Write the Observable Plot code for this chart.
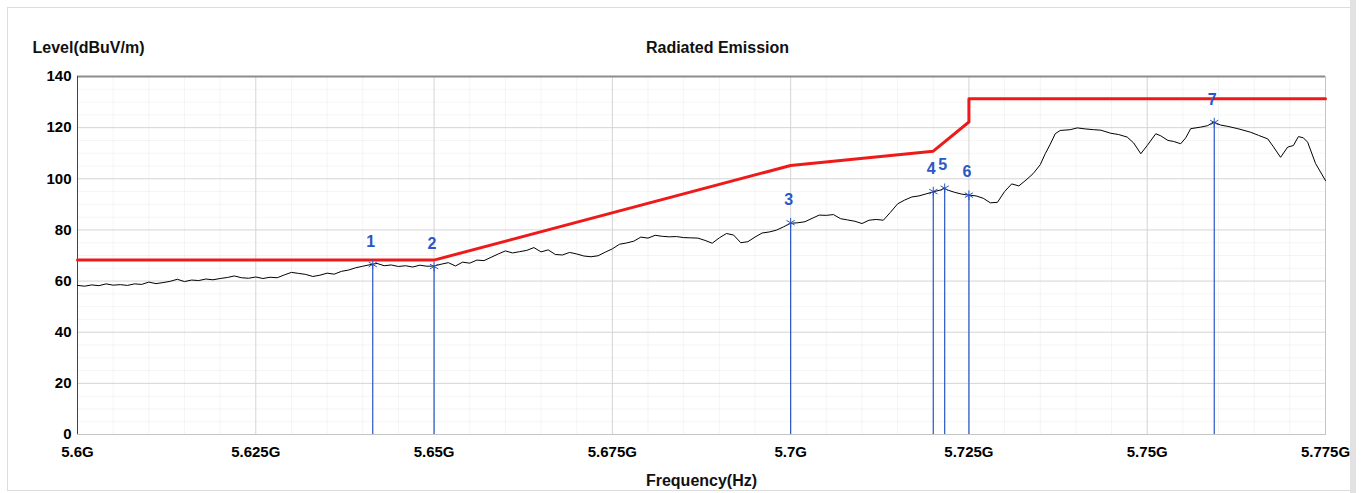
<!DOCTYPE html>
<html>
<head>
<meta charset="utf-8">
<script src="https://cdn.jsdelivr.net/npm/d3@7"></script>
<script src="https://cdn.jsdelivr.net/npm/@observablehq/plot@0.6"></script>
<style>
  html, body { margin: 0; padding: 0; background: #ffffff; }
  #wrap { position: relative; width: 1363px; height: 493px; overflow: hidden; }
  #panel { position: absolute; left: 7px; top: 7px; width: 1342px; height: 482px; border: 1px solid #dcdcdc; background: #ffffff; }
  #strip { position: absolute; left: 1350px; top: 0px; width: 6px; height: 493px; background: #e2e2e2; }
  #chart { position: absolute; left: 0; top: 0; }
</style>
</head>
<body>
<div id="wrap"><div id="panel"></div><div id="strip"></div><div id="chart"></div></div>
<script>
// ---- data (GHz / dBuV/m) ----
const traceFreq = [
  5.600,5.601,5.602,5.603,5.604,5.605,5.606,5.607,5.608,5.609,
  5.610,5.611,5.612,5.613,5.614,5.615,5.616,5.617,5.618,5.619,
  5.620,5.621,5.622,5.623,5.624,5.625,5.626,5.627,5.628,5.629,
  5.630,5.631,5.632,5.633,5.634,5.635,5.636,5.637,5.638,5.639,
  5.640,5.641,5.642,5.643,5.644,5.645,5.646,5.647,5.648,5.649,
  5.650,5.651,5.652,5.653,5.654,5.655,5.656,5.657,5.658,5.659,
  5.660,5.661,5.662,5.663,5.664,5.665,5.666,5.667,5.668,5.669,
  5.670,5.671,5.672,5.673,5.674,5.675,5.676,5.677,5.678,5.679,
  5.680,5.681,5.682,5.683,5.684,5.685,5.686,5.687,5.688,5.689,
  5.690,5.691,5.692,5.693,5.694,5.695,5.696,5.697,5.698,5.699,
  5.700,5.701,5.702,5.703,5.704,5.705,5.706,5.707,5.708,5.709,
  5.710,5.711,5.712,5.713,5.714,5.715,5.716,5.717,5.718,5.719,
  5.720,5.721,5.7215,5.722,5.723,5.724,5.725,5.726,5.727,5.728,5.729,
  5.730,5.731,5.732,5.733,5.734,5.735,
  5.7357,5.7364,5.7371,5.7378,5.7392,5.7402,5.7413,5.7425,5.7435,5.7449,
  5.7460,5.7472,5.7481,5.7491,5.7500,5.7512,5.7519,5.7529,5.7537,5.7547,
  5.7554,5.7561,5.7575,5.7585,5.7593,5.7603,5.7613,5.7627,5.7645,5.7656,
  5.7669,5.7677,5.7687,5.7697,5.7705,5.7712,5.7719,5.7725,5.7736,5.7750
];
const traceLevel = [
  58.3,58.0,58.5,58.2,58.9,58.4,58.6,58.3,58.9,58.7,
  59.6,59.0,59.4,59.9,60.7,59.8,60.4,60.2,60.8,60.5,
  61.0,61.4,62.0,61.3,61.1,61.6,61.0,61.5,61.3,62.4,
  63.4,63.0,62.6,61.8,62.3,63.1,62.7,63.8,64.3,65.2,
  65.8,66.4,66.9,66.0,66.3,65.7,66.0,65.5,66.2,65.8,
  65.9,66.6,67.2,65.9,67.4,67.0,68.2,68.0,69.3,70.6,
  71.8,71.0,71.5,72.0,73.1,71.4,72.2,70.4,70.2,71.2,
  70.6,69.8,69.5,69.9,71.3,72.6,74.4,74.9,75.6,77.2,
  76.8,77.9,77.5,77.3,77.4,77.0,76.9,76.8,75.9,74.8,
  76.9,78.6,78.0,75.0,75.4,77.2,78.8,79.2,79.9,81.2,
  82.6,82.8,83.2,84.5,85.8,85.7,86.0,84.4,83.9,83.4,
  82.5,83.8,84.1,83.8,86.9,90.2,91.7,92.9,93.3,94.1,
  94.9,95.6,96.3,95.6,94.7,94.0,93.6,93.3,92.4,90.6,90.8,
  95.0,98.0,97.2,99.5,102.0,105.5,
  109.8,113.5,117.6,118.9,119.2,119.9,119.5,119.2,119.0,117.8,
  117.3,116.3,114.0,109.8,113.0,117.6,116.8,115.0,114.6,113.7,
  116.0,119.6,120.2,120.8,122.2,121.0,120.5,119.6,118.2,117.0,
  115.6,112.5,108.4,112.4,113.0,116.5,116.0,114.3,106.0,99.3
];
const limitFreq  = [5.600, 5.650, 5.700, 5.720, 5.725, 5.725, 5.775];
const limitLevel = [68.2, 68.2, 105.2, 110.8, 122.2, 131.3, 131.3];

const markerLabel = ["1", "2", "3", "4", "5", "6", "7"];
const markerFreq  = [5.6414, 5.6500, 5.7000, 5.7200, 5.7216, 5.7250, 5.7594];
const markerLevel = [66.5, 65.7, 82.8, 95.0, 96.3, 93.6, 122.0];

const xTicks = [5.6, 5.625, 5.65, 5.675, 5.7, 5.725, 5.75, 5.775];
const xTickLabels = ["5.6G", "5.625G", "5.65G", "5.675G", "5.7G", "5.725G", "5.75G", "5.775G"];
const yTicks = [0, 20, 40, 60, 80, 100, 120, 140];
const yTickLabels = ["0", "20", "40", "60", "80", "100", "120", "140"];

const titleText = "Radiated Emission";
const yTitle = "Level(dBuV/m)";
const xTitle = "Frequency(Hz)";

// ---- build tables ----
const trace = traceFreq.map((f, i) => ({f, v: traceLevel[i]}));
const limit = limitFreq.map((f, i) => ({f, v: limitLevel[i]}));
const markers = markerFreq.map((f, i) => ({f, v: markerLevel[i], label: markerLabel[i]}));
const minorX = d3.range(5.6, 5.7751, 0.005).filter(d => !xTicks.some(t => Math.abs(t - d) < 1e-6));
const minorY = d3.range(5, 140, 5).filter(d => d % 20 !== 0);

const blue = "#2a56c6";
const font = "'Liberation Sans', Arial, sans-serif";

const chart = Plot.plot({
  width: 1363,
  height: 493,
  marginLeft: 77,
  marginRight: 38,
  marginTop: 76,
  marginBottom: 59,
  style: {background: "transparent", fontFamily: font, fontSize: "15px", fontWeight: "bold", color: "#000", overflow: "visible"},
  x: {domain: [5.6, 5.775], label: null},
  y: {domain: [0, 140], label: null},
  marks: [
    Plot.gridX(minorX, {stroke: "#000", strokeOpacity: 0.045}),
    Plot.gridY(minorY, {stroke: "#000", strokeOpacity: 0.045}),
    Plot.gridX(xTicks, {stroke: "#d4d4d4", strokeOpacity: 1}),
    Plot.gridY(yTicks, {stroke: "#d4d4d4", strokeOpacity: 1}),
    Plot.frame({stroke: "#c4c4c4"}),
    Plot.ruleY([140], {stroke: "#8c8c8c", strokeWidth: 2}),
    Plot.ruleX([5.6], {stroke: "#444"}),
    Plot.axisX(xTicks, {tickSize: 0, tickPadding: 12, fontSize: 15, fontWeight: "bold", letterSpacing: 1,
      tickFormat: d => xTickLabels[xTicks.indexOf(d)]}),
    Plot.axisY(yTicks, {tickSize: 0, tickPadding: 6, fontSize: 15, fontWeight: "bold", letterSpacing: 1,
      tickFormat: d => yTickLabels[yTicks.indexOf(d)]}),
    Plot.ruleX(markers, {x: "f", y1: 0, y2: "v", stroke: blue, strokeWidth: 1.2}),
    Plot.line(trace, {x: "f", y: "v", stroke: "#000", strokeWidth: 1}),
    Plot.line(limit, {x: "f", y: "v", stroke: "#ee1a1a", strokeWidth: 3}),
    Plot.dot(markers, {x: "f", y: "v", symbol: "asterisk", r: 4.5, stroke: blue, strokeWidth: 1}),
    Plot.text(markers, {x: "f", y: "v", text: "label", dx: -2, dy: -23, fill: blue, fontSize: 16, fontWeight: "bold"}),
    Plot.text([titleText], {text: d => d, frameAnchor: "top", lineAnchor: "middle", dx: 16, dy: -29, fontSize: 16, fontWeight: "bold", fill: "#111"}),
    Plot.text([yTitle], {text: d => d, frameAnchor: "top-left", lineAnchor: "middle", textAnchor: "start", dx: -45, dy: -29, fontSize: 16, fontWeight: "bold", fill: "#111"}),
    Plot.text([xTitle], {text: d => d, frameAnchor: "bottom", lineAnchor: "middle", dy: 46, fontSize: 16, fontWeight: "bold", fill: "#111"})
  ]
});
document.getElementById("chart").appendChild(chart);
</script>
</body>
</html>
